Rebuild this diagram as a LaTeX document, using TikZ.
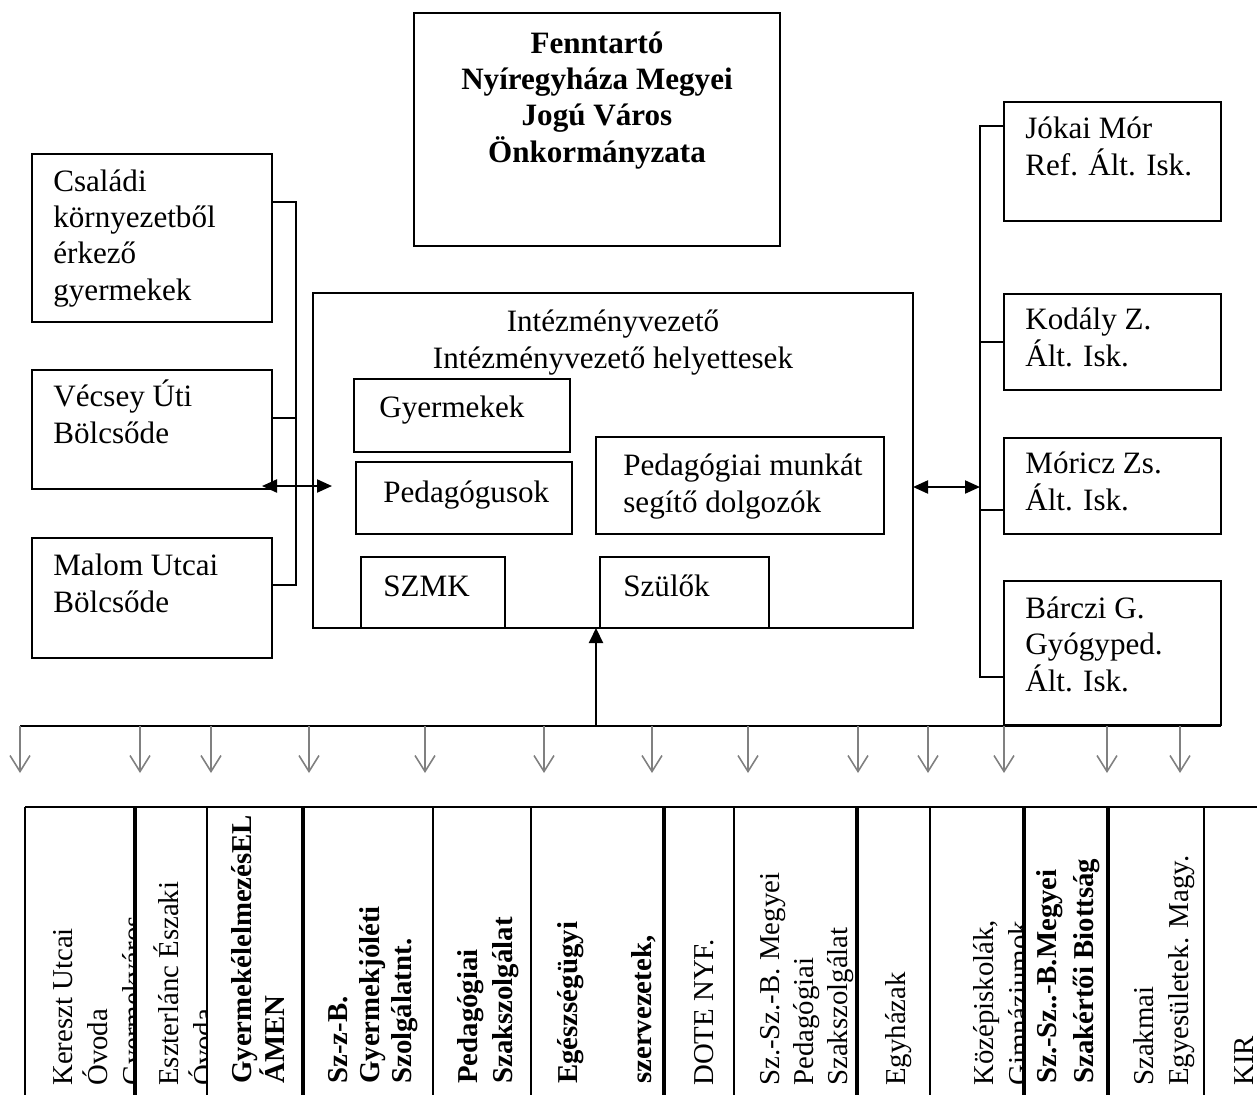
\documentclass[tikz,border=0pt]{standalone}
\usepackage{fontspec}
\setmainfont{Liberation Serif}
\usetikzlibrary{arrows.meta,positioning}

\tikzset{
  doboz/.style 2 args={draw, line width=1.2pt, anchor=north west, inner sep=0pt,
    outer sep=0pt, minimum width=#1*0.02cm, minimum height=#2*0.02cm},
  szoveg/.style={anchor=base west, align=left, inner sep=0pt},
  felkover/.style={font=\fontsize{17.7}{20.5}\selectfont\bfseries},
  vonal/.style={line width=1.2pt},
  ketnyil/.style={line width=1.2pt,
    {Triangle[length=0.3cm,width=0.26cm]}-{Triangle[length=0.3cm,width=0.26cm]}},
  felnyil/.style={line width=1.2pt, -{Triangle[length=0.3cm,width=0.28cm]}},
  lenyil/.style={draw=black!50, line width=0.9pt, -{Straight Barb[length=0.32cm,width=0.4cm]}},
  oszlop/.style={rotate=90, anchor=base west, align=left, inner sep=0pt,
    font=\fontsize{16.4}{19.9}\selectfont},
  oszlopf/.style={oszlop, font=\fontsize{16.4}{18.2}\selectfont\bfseries},
  vastag/.style={line width=2.3pt},
  vekony/.style={line width=1.2pt}
}

\begin{document}
\begin{tikzpicture}[x=0.02cm, y=-0.02cm, font=\fontsize{17.7}{20.5}\selectfont]
\useasboundingbox (0,0) rectangle (1257,1095);

% Fenntarto (base = utolso sor alapvonala)
\node[doboz={366}{233}] (fenntarto) at (414,13) {};
\node[anchor=base, align=center, inner sep=0pt, felkover] (fenntarto-t) at (597,162)
  {Fenntartó\\Nyíregyháza Megyei\\Jogú Város\\Önkormányzata};

% bal oldali dobozok
\node[doboz={240}{168}] (csaladi) at (32,154) {};
\node[szoveg] (csaladi-t) at (53,300) {Családi\\környezetből\\érkező\\gyermekek};
\node[doboz={240}{119}] (vecsey) at (32,370) {};
\node[szoveg] (vecsey-t) at (53,443) {Vécsey Úti\\Bölcsőde};
\node[doboz={240}{120}] (malom) at (32,538) {};
\node[szoveg] (malom-t) at (53,612) {Malom Utcai\\Bölcsőde};

% intezmeny
\node[doboz={600}{335}] (kozep) at (313,293) {};
\node[anchor=base, align=center, inner sep=0pt] (kozep-t) at (613,368)
  {Intézményvezető\\Intézményvezető helyettesek};
\node[doboz={216}{73}] (gyermekek) at (354,379) {};
\node[szoveg] (gyermekek-t) at (379,417) {Gyermekek};
\node[doboz={216}{72}] (pedagogusok) at (356,462) {};
\node[szoveg] (pedagogusok-t) at (383,502) {Pedagógusok};
\node[doboz={288}{97}] (segito) at (596,437) {};
\node[szoveg] (segito-t) at (623,512) {Pedagógiai munkát\\segítő dolgozók};
\node[doboz={144}{71}] (szmk) at (361,557) {};
\node[szoveg] (szmk-t) at (383,596) {SZMK};
\node[doboz={169}{71}] (szulok) at (600,557) {};
\node[szoveg] (szulok-t) at (623,596) {Szülők};

% jobb oldali iskolak
\node[doboz={217}{119}] (jokai) at (1004,102) {};
\node[szoveg] (jokai-t) at (1025,175) {Jókai Mór\\Ref. Ált. Isk.};
\node[doboz={217}{96}] (kodaly) at (1004,294) {};
\node[szoveg] (kodaly-t) at (1025,366) {Kodály Z.\\Ált. Isk.};
\node[doboz={217}{96}] (moricz) at (1004,438) {};
\node[szoveg] (moricz-t) at (1025,510) {Móricz Zs.\\Ált. Isk.};
\node[doboz={217}{144}] (barczi) at (1004,581) {};
\node[szoveg] (barczi-t) at (1025,691) {Bárczi G.\\Gyógyped.\\Ált. Isk.};

% bal gyujto vonal
\coordinate (bb1) at (296,202);
\coordinate (bb2) at (296,418);
\coordinate (bb3) at (296,585);
\draw[vonal] (csaladi.east |- bb1) -- (bb1) -- (bb3) -- (malom.east |- bb3);
\draw[vonal] (vecsey.east |- bb2) -- (bb2);
\coordinate (bn1) at (262,486);
\coordinate (bn2) at (332,486);
\draw[ketnyil] (bn1) -- (bn2);

% jobb gyujto vonal
\coordinate (jb1) at (980,126);
\coordinate (jb2) at (980,342);
\coordinate (jb3) at (980,510);
\coordinate (jb4) at (980,677);
\draw[vonal] (jokai.west |- jb1) -- (jb1) -- (jb4) -- (barczi.west |- jb4);
\draw[vonal] (jb2) -- (kodaly.west |- jb2);
\draw[vonal] (jb3) -- (moricz.west |- jb3);
\coordinate (jn) at (980,487);
\draw[ketnyil] (kozep.east |- jn) -- (jn);

% also gyujto vonal es nyilak
\coordinate (busz) at (20,726);
\coordinate (fel) at (596,726);
\draw[vonal] (busz) -- (barczi.south east |- busz);
\draw[felnyil] (fel) -- (fel |- kozep.south);
\foreach \x [count=\i] in {20,140,211,309,425,544,652,748,858,928,1004,1107,1180} {
  \coordinate (le\i) at (\x,773);
  \draw[lenyil] (le\i |- busz) -- (le\i);
}

% also oszlopok szovegei (x = utolso sor alapvonala)
\begin{scope}
  \clip (25,807) rectangle (135,1095);
  \node[oszlop] (o1) at (142,1086) {Kereszt Utcai\\Óvoda\\Gyermekváros};
\end{scope}
\begin{scope}
  \clip (135,807) rectangle (207,1095);
  \node[oszlop] (o2) at (213,1086) {Eszterlánc Északi\\Óvoda};
\end{scope}
\node[oszlopf, font=\fontsize{16.4}{17.6}\selectfont\bfseries] (o3) at (284,1084) {GyermekélelmezésEL\\ÁMEN};
\node[oszlopf] (o4) at (411,1084) {Sz-z-B.\\Gyermekjóléti\\Szolgálatnt.};
\node[oszlopf, font=\fontsize{16.4}{19.9}\selectfont\bfseries] (o5) at (512,1084) {Pedagógiai\\Szakszolgálat};
\node[oszlopf, font=\fontsize{16.4}{21}\selectfont\bfseries] (o6) at (651,1084) {Egészségügyi\\\mbox{}\\szervezetek,};
\node[oszlop] (o7) at (713,1086) {DOTE NYF.};
\begin{scope}
  \clip (734,807) rectangle (857,1095);
  \node[oszlop, font=\fontsize{16.4}{19.3}\selectfont] (o8) at (847,1086) {Sz.-Sz.-B. Megyei\\Pedagógiai\\Szakszolgálat};
\end{scope}
\node[oszlop] (o9) at (905,1086) {Egyházak};
\begin{scope}
  \clip (930,807) rectangle (1024,1095);
  \node[oszlop] (o10) at (1028,1086) {Középiskolák,\\Gimnáziumok};
\end{scope}
\node[oszlopf, font=\fontsize{16.4}{21}\selectfont\bfseries] (o11) at (1093,1084) {Sz.-Sz..-B.Megyei\\Szakértői Biottság};
\node[oszlop] (o12) at (1188,1086) {Szakmai\\Egyesületek. Magy.};
\node[oszlop] (o13) at (1253,1086) {KIR};

% oszlopvonalak
\draw[vekony] (25,807) -- (1257,807);
\draw[line width=1.6pt] (25,807) -- (25,1095);
\foreach \x in {207,433,531,734,930,1204} \draw[vekony] (\x,807) -- (\x,1095);
\foreach \x in {135,303,664,857,1108} \draw[vastag] (\x,807) -- (\x,1095);
\draw[line width=1.8pt] (1024,807) -- (1024,1095);
\end{tikzpicture}
\end{document}
